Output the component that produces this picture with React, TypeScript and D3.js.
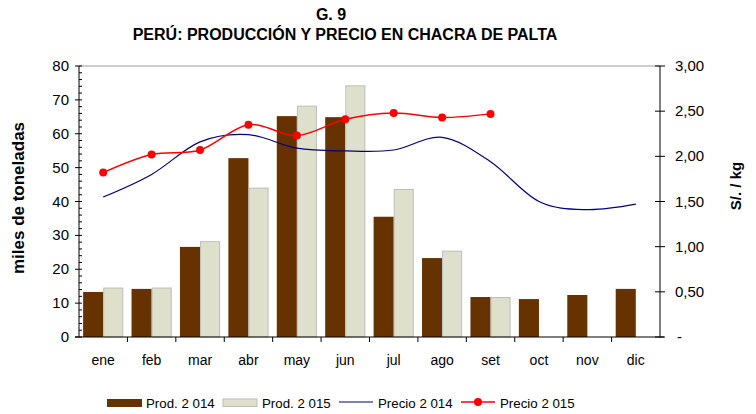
import React from 'react';
import * as d3 from 'd3';

const months = ['ene', 'feb', 'mar', 'abr', 'may', 'jun', 'jul', 'ago', 'set', 'oct', 'nov', 'dic'];
const prod2014 = [13.3, 14.2, 26.6, 52.8, 65.2, 64.9, 35.5, 23.3, 11.8, 11.2, 12.4, 14.2];
const prod2015 = [14.6, 14.6, 28.3, 44.1, 68.3, 74.3, 43.7, 25.5, 11.8];
const precio2014 = [1.55, 1.8, 2.16, 2.24, 2.09, 2.06, 2.07, 2.21, 1.94, 1.5, 1.41, 1.47];
const precio2015 = [1.82, 2.02, 2.07, 2.35, 2.23, 2.41, 2.48, 2.43, 2.47];
const leftTicks = [0, 10, 20, 30, 40, 50, 60, 70, 80];
const rightTicks = [0, 0.5, 1, 1.5, 2, 2.5, 3];

const W = 756, H = 414;
const m = { left: 79, right: 660, top: 66, bottom: 337 };
const font = 'Liberation Sans, Arial, sans-serif';
const BROWN = '#663300';
const BEIGE = '#dfe0cc';
const BLUE = '#000080';
const RED = '#ff0000';

export default function App() {
  const x = d3.scaleBand().domain(months).range([m.left, m.right]).padding(0);
  const bw = x.bandwidth();
  const xs = d3.scaleBand().domain(['2014', '2015']).range([bw * 0.085, bw * 0.915]).padding(0);
  const yL = d3.scaleLinear().domain([0, 80]).range([m.bottom, m.top]);
  const yR = d3.scaleLinear().domain([0, 3]).range([m.bottom, m.top]);
  const cx = (i: number) => (x(months[i]) as number) + bw / 2;

  const line = d3.line<number>()
    .x((d, i) => cx(i))
    .y(d => yR(d))
    .curve(d3.curveCardinal.tension(0));

  const minor = d3.range(0, 81, 2).filter(v => v % 10 !== 0);
  const fmtR = (v: number) => (v === 0 ? '-' : v.toFixed(2).replace('.', ','));

  return (
    <svg width={W} height={H} style={{ position: 'absolute', left: 0, top: 0, background: '#fff' }} fontFamily={font}>
      {/* titles */}
      <text x={331} y={19.5} textAnchor="middle" fontSize={16} fontWeight="bold">G. 9</text>
      <text x={345} y={40} textAnchor="middle" fontSize={16} fontWeight="bold">PERÚ: PRODUCCIÓN Y PRECIO EN CHACRA DE PALTA</text>

      {/* top border */}
      <line x1={m.left} x2={m.right} y1={m.top} y2={m.top} stroke="#9a9a9a" />

      {/* bars */}
      {prod2014.map((v, i) => (
        <rect key={'a' + i} x={(x(months[i]) as number) + (xs('2014') as number)} y={yL(v)}
          width={xs.bandwidth()} height={yL(0) - yL(v)} fill={BROWN} />
      ))}
      {prod2015.map((v, i) => (
        <rect key={'b' + i} x={(x(months[i]) as number) + (xs('2015') as number) + 0.5} y={yL(v) + 0.5}
          width={xs.bandwidth() - 1} height={yL(0) - yL(v) - 0.5} fill={BEIGE} stroke="#bdbdbd" strokeWidth={1} />
      ))}

      {/* lines */}
      <path d={line(precio2014) || ''} fill="none" stroke={BLUE} strokeWidth={1.2} />
      <path d={line(precio2015) || ''} fill="none" stroke={RED} strokeWidth={1.5} />
      {precio2015.map((v, i) => (
        <circle key={'c' + i} cx={cx(i)} cy={yR(v)} r={4} fill={RED} />
      ))}

      {/* left axis */}
      <line x1={m.left} x2={m.left} y1={m.top} y2={m.bottom} stroke="#000" />
      {leftTicks.map(t => (
        <g key={'l' + t}>
          <line x1={m.left - 4} x2={m.left + 3} y1={yL(t)} y2={yL(t)} stroke="#000" />
          <text x={m.left - 10} y={yL(t) + 5} textAnchor="end" fontSize={15}>{t}</text>
        </g>
      ))}
      {minor.map(t => (
        <line key={'n' + t} x1={m.left} x2={m.left + 3} y1={yL(t)} y2={yL(t)} stroke="#000" />
      ))}
      <text transform={`translate(24,198) rotate(-90)`} textAnchor="middle" fontSize={17} fontWeight="bold">miles de toneladas</text>

      {/* right axis */}
      <line x1={m.right} x2={m.right} y1={m.top} y2={m.bottom} stroke="#000" />
      {rightTicks.map(t => (
        <g key={'r' + t}>
          <line x1={m.right - 5} x2={m.right + 5} y1={yR(t)} y2={yR(t)} stroke="#000" />
          <text x={t === 0 ? 677 : 675} y={yR(t) + 5} fontSize={15}>{fmtR(t)}</text>
        </g>
      ))}
      <text transform={`translate(741,186) rotate(-90)`} textAnchor="middle" fontSize={15} fontWeight="bold">S/. / kg</text>

      {/* x axis */}
      <line x1={m.left - 4} x2={m.right + 4} y1={m.bottom} y2={m.bottom} stroke="#000" />
      {months.map((mo, i) => (
        <g key={mo}>
          {i > 0 && <line x1={x(mo)} x2={x(mo)} y1={m.bottom} y2={m.bottom + 5} stroke="#000" />}
          <text x={cx(i)} y={365} textAnchor="middle" fontSize={14}>{mo}</text>
        </g>
      ))}

      {/* legend */}
      <g fontSize={13.3}>
        <rect x={107} y={399} width={35} height={8} fill={BROWN} />
        <text x={146} y={407.5}>Prod. 2 014</text>
        <rect x={223} y={399} width={34} height={7.5} fill={BEIGE} stroke="#bdbdbd" />
        <text x={262} y={407.5}>Prod. 2 015</text>
        <line x1={339} x2={373} y1={402} y2={402} stroke={BLUE} strokeWidth={1.2} />
        <text x={378} y={407.5}>Precio 2 014</text>
        <line x1={461} x2={495} y1={402} y2={402} stroke={RED} strokeWidth={1.5} />
        <circle cx={478} cy={402} r={4} fill={RED} />
        <text x={500} y={407.5}>Precio 2 015</text>
      </g>
    </svg>
  );
}
